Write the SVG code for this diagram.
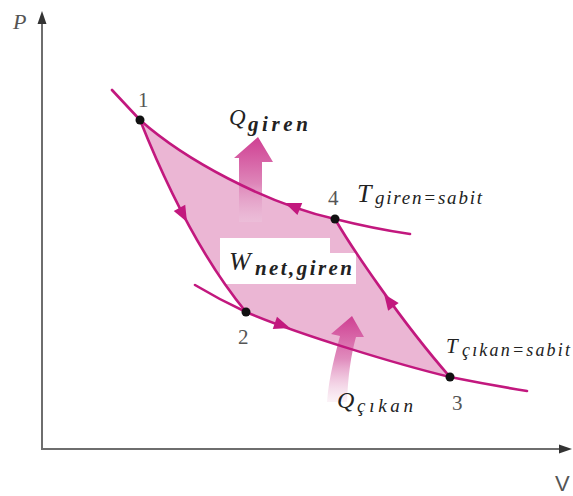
<svg xmlns="http://www.w3.org/2000/svg" width="573" height="496" viewBox="0 0 573 496">
<defs>
<style>
.axis{stroke:#6e6e6e;stroke-width:2;fill:none}
.curve{stroke:#c2187e;stroke-width:2.6;fill:none;stroke-linecap:round}
.ah{fill:#c2187e}
.num{font-family:"Liberation Serif",serif;font-size:21px;fill:#555}
.mi{font-family:"Liberation Serif",serif;font-style:italic;fill:#222}
.pt{fill:#111}
</style>
<linearGradient id="gUp" x1="0" y1="0" x2="0" y2="1">
<stop offset="0" stop-color="#cf3f92"/>
<stop offset="0.55" stop-color="#de86b9"/>
<stop offset="1" stop-color="#ecc2db" stop-opacity="0.6"/>
</linearGradient>
<linearGradient id="gUp2" x1="0" y1="0" x2="0" y2="1">
<stop offset="0" stop-color="#cf3f92"/>
<stop offset="0.5" stop-color="#e08cbd"/>
<stop offset="1" stop-color="#f6e0ec" stop-opacity="0.4"/>
</linearGradient>
</defs>
<rect width="573" height="496" fill="#fff"/>

<g id="axes">
<path class="axis" d="M42,448 V22"/>
<path d="M42,11 L37.5,24 L46.5,24 Z" fill="#333"/>
<path class="axis" d="M41,449 H560"/>
<path d="M572,449 L559,444.5 L559,453.5 Z" fill="#333"/>
<text x="13" y="29" style="font-family:'Liberation Serif',serif;font-style:italic;font-size:22px;fill:#555">P</text>
<text x="555" y="491" style="font-family:'Liberation Sans',sans-serif;font-size:22px;fill:#555">V</text>
</g>

<g id="cycle-area">
<path d="M140,120 C185,160 265,203 335,219 C350,245 400,320 450,377 C400,365 300,335 246,312 C195,250 160,170 140,120 Z" fill="#ebb6d4"/>
</g>

<g id="heat-in">
<path d="M239,222 V158 H234 L258,137 L273,162 H262 V222 Z" fill="url(#gUp)"/>
</g>
<g id="heat-out">
<path d="M327,402 C329,375 336,352 340,336 L331,334 L352,316 L364,337 L356,337 C351,355 348,375 347,402 Z" fill="url(#gUp2)"/>
</g>

<g id="work-label">
<path d="M220,238 H330 V253 H356 V284 H220 Z" fill="#fff"/>
<text x="229" y="270" class="mi" style="font-size:26px">W</text>
<text x="255" y="275" class="mi" style="font-size:21px;font-weight:bold" textLength="97" lengthAdjust="spacing">net,giren</text>
</g>

<g id="connectors">
<path class="curve" d="M112,90 Q125,104 140,120 C185,160 265,203 335,219 Q375,229 410,234"/>
<path class="curve" d="M195,285 Q220,300 246,312 C300,335 400,365 450,377 Q490,385 527,391"/>
<path class="curve" d="M140,120 C160,170 195,250 246,312"/>
<path class="curve" d="M335,219 C350,245 400,320 450,377"/>
<path class="ah" d="M0,0 L-16,-6.5 L-16,6.5 Z" transform="translate(187,222) rotate(62)"/>
<path class="ah" d="M0,0 L-16,-6.5 L-16,6.5 Z" transform="translate(285,203) rotate(-158)"/>
<path class="ah" d="M0,0 L-16,-6.5 L-16,6.5 Z" transform="translate(290,328) rotate(19)"/>
<path class="ah" d="M0,0 L-16,-6.5 L-16,6.5 Z" transform="translate(384,294) rotate(-126)"/>
</g>

<g id="node-1"><circle class="pt" cx="140" cy="120" r="4.5"/><text class="num" x="138" y="107">1</text></g>
<g id="node-2"><circle class="pt" cx="246" cy="312" r="4.5"/><text class="num" x="238" y="344">2</text></g>
<g id="node-3"><circle class="pt" cx="450" cy="377" r="4.5"/><text class="num" x="452" y="410">3</text></g>
<g id="node-4"><circle class="pt" cx="335" cy="219" r="4.5"/><text class="num" x="328" y="205">4</text></g>

<g id="labels">
<text x="229" y="125" class="mi" style="font-size:23px">Q</text>
<text x="248" y="131" class="mi" style="font-size:21px;font-weight:bold" textLength="60" lengthAdjust="spacing">giren</text>
<text x="357" y="202" class="mi" style="font-size:26px">T</text>
<text x="375" y="204" class="mi" style="font-size:19px" textLength="107" lengthAdjust="spacing">giren=sabit</text>
<text x="446" y="353" class="mi" style="font-size:21px">T</text>
<text x="462" y="356" class="mi" style="font-size:18px" textLength="108" lengthAdjust="spacing">çıkan=sabit</text>
<text x="337" y="408" class="mi" style="font-size:24px">Q</text>
<text x="357" y="412" class="mi" style="font-size:19px" textLength="56" lengthAdjust="spacing">çıkan</text>
</g>
</svg>
